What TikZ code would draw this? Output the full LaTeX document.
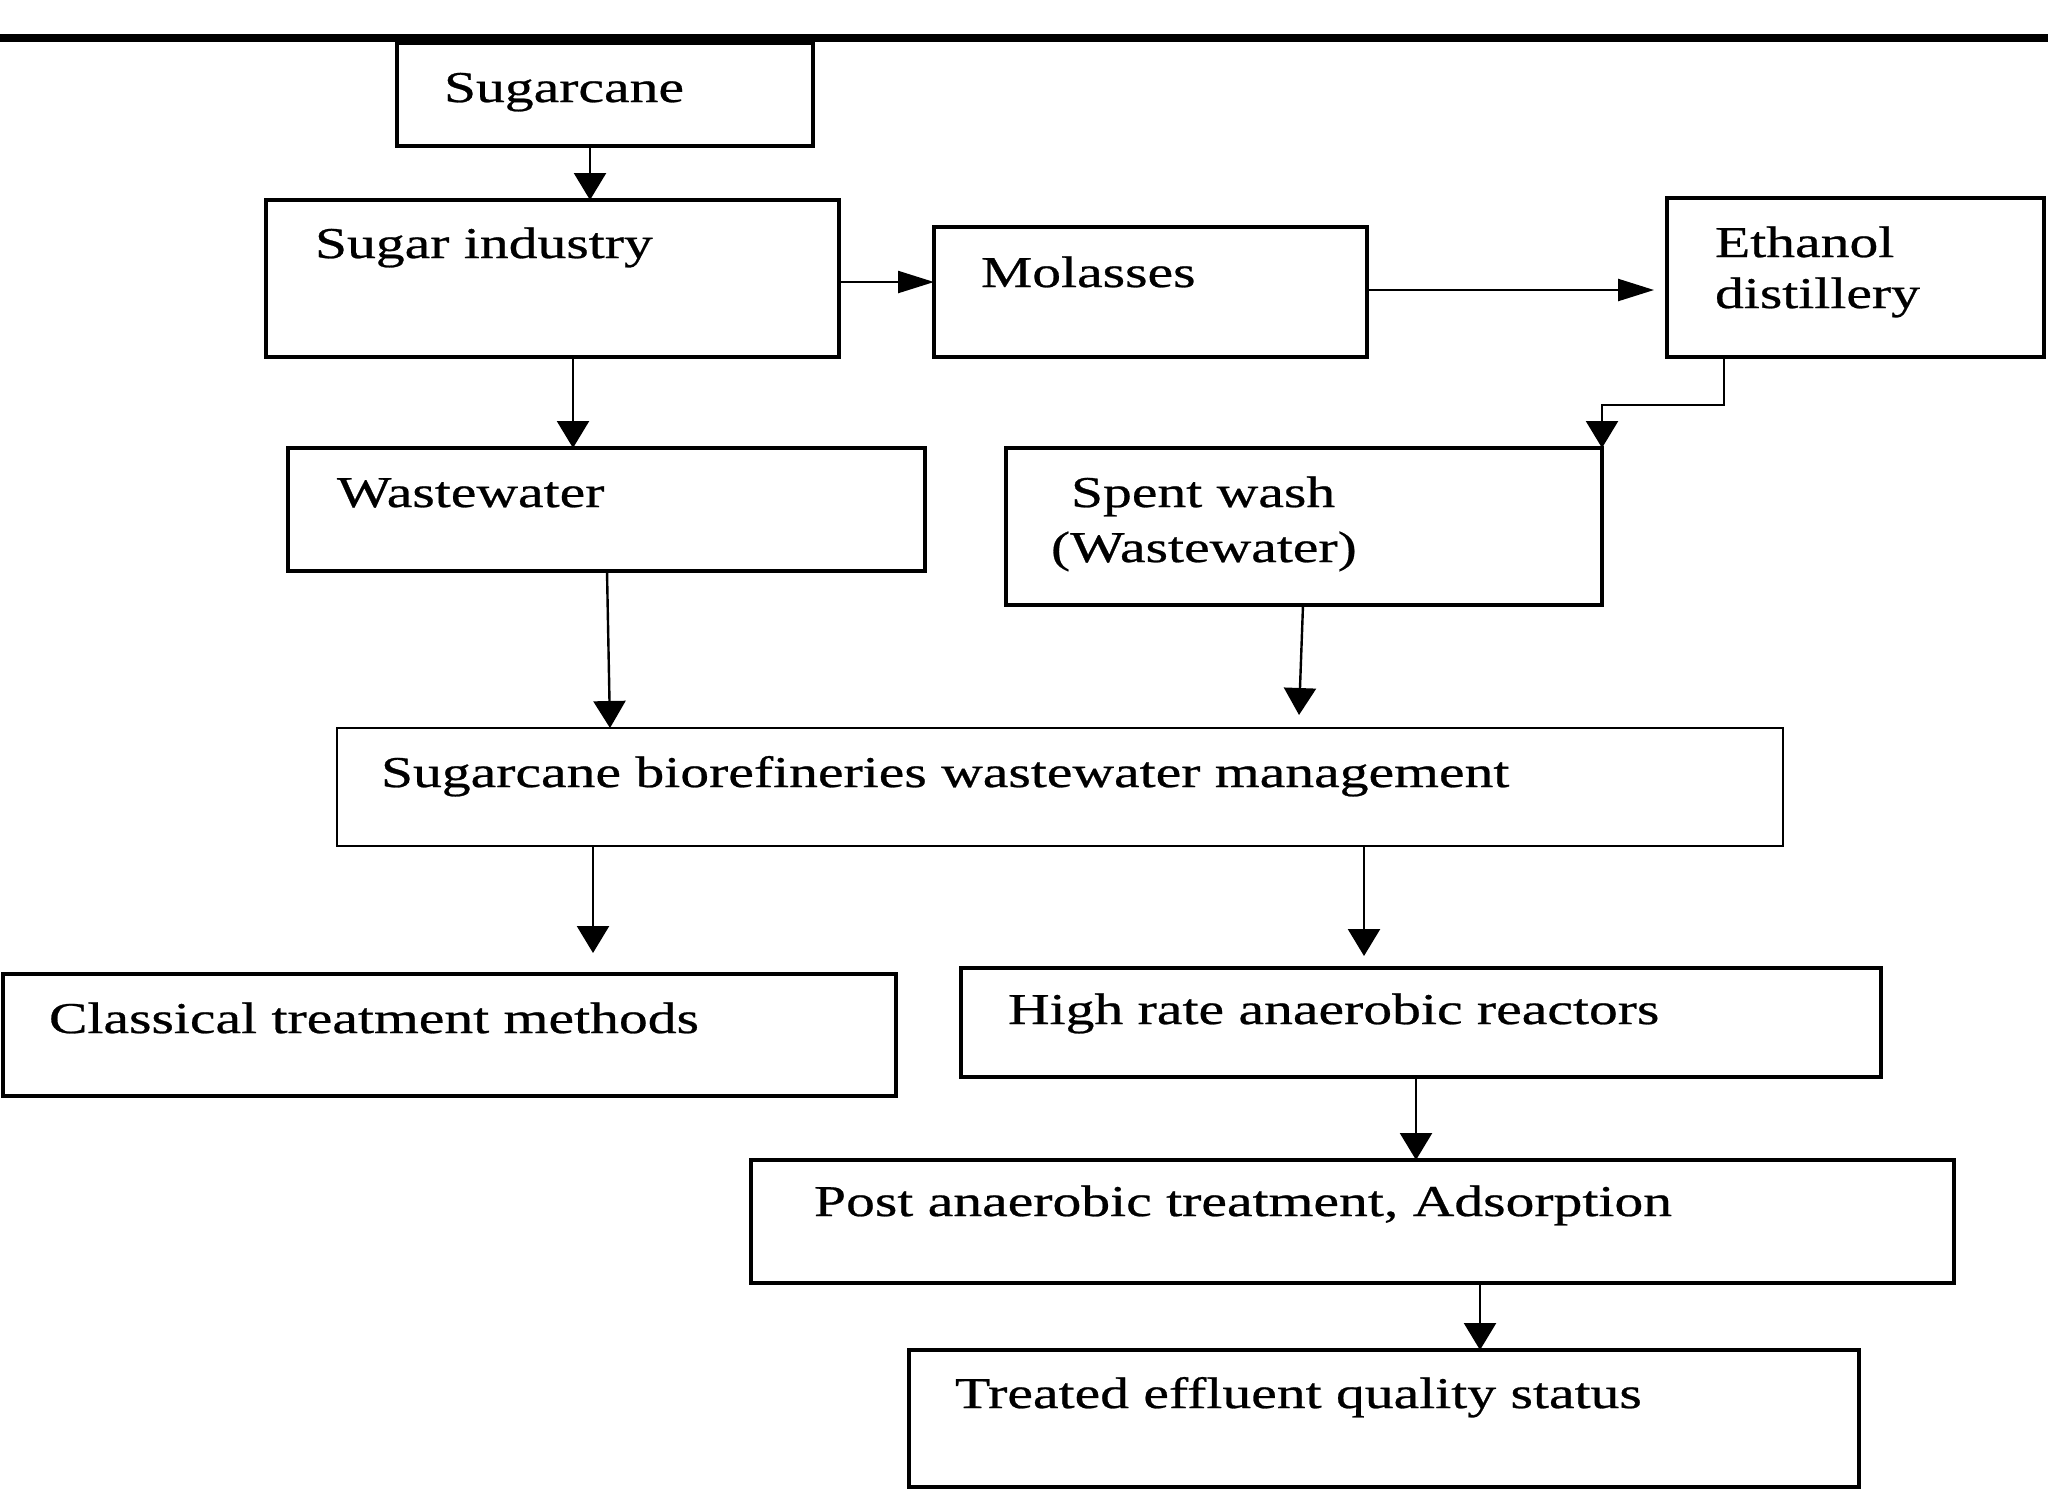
\documentclass[tikz,border=0pt]{standalone}
\usepackage{fontspec}
\setmainfont{Liberation Serif}[FakeStretch=1.31,FakeBold=0.6]
\usetikzlibrary{arrows.meta}
\tikzset{
  box/.style={draw, line width=2.3pt, inner sep=0pt, outer sep=0pt, anchor=north west},
  thinbox/.style={box, line width=1.3pt},
  lbl/.style={anchor=base west, inner sep=0pt, outer sep=0pt, font=\fontsize{22pt}{26pt}\selectfont},
  varr/.style={line width=1.2pt, -{Triangle[length=13.5pt,width=16pt]}},
  harr/.style={line width=1.2pt, -{Triangle[length=18pt,width=11pt]}}
}
\begin{document}
\begin{tikzpicture}[x=0.5pt,y=-0.5pt]
\useasboundingbox (0,0) rectangle (2048,1490);
\fill[white] (0,0) rectangle (2048,1490);
% top rule
\coordinate (ruleL) at (0,38);
\coordinate (ruleR) at (2048,38);
\draw[line width=3.9pt] (ruleL) -- (ruleR);

% boxes
\node[box, minimum width=208pt,   minimum height=51.5pt] (sc)  at (397,43)   {};
\node[box, minimum width=286.5pt, minimum height=78.5pt] (si)  at (266,200)  {};
\node[box, minimum width=216.5pt, minimum height=65pt]   (mo)  at (934,227)  {};
\node[box, minimum width=188.5pt, minimum height=79.5pt] (et)  at (1667,198) {};
\node[box, minimum width=318.5pt, minimum height=61.5pt] (ww)  at (288,448)  {};
\node[box, minimum width=298pt,   minimum height=78.5pt] (sw)  at (1006,448) {};
\node[thinbox, minimum width=723pt, minimum height=59pt] (bio) at (337,728)  {};
\node[box, minimum width=446.5pt, minimum height=61pt]   (cl)  at (3,974)    {};
\node[box, minimum width=460pt,   minimum height=54.5pt] (hr)  at (961,968)  {};
\node[box, minimum width=601.5pt, minimum height=61.5pt] (pa)  at (751,1160) {};
\node[box, minimum width=475pt,   minimum height=68.5pt] (te)  at (909,1350) {};

% labels
\node[lbl] (sc-t)  at (444,102)  {Sugarcane};
\node[lbl] (si-t)  at (315,258)  {Sugar industry};
\node[lbl] (mo-t)  at (981,287)  {Molasses};
\node[lbl] (et-t1) at (1715,257) {Ethanol};
\node[lbl] (et-t2) at (1715,308) {distillery};
\node[lbl] (ww-t)  at (337,507)  {Wastewater};
\node[lbl] (sw-t1) at (1071,507) {Spent wash};
\node[lbl] (sw-t2) at (1051,562) {(Wastewater)};
\node[lbl] (bio-t) at (381,787)  {Sugarcane biorefineries wastewater management};
\node[lbl] (cl-t)  at (49,1033)  {Classical treatment methods};
\node[lbl] (hr-t)  at (1008,1024) {High rate anaerobic reactors};
\node[lbl] (pa-t)  at (814,1216) {Post anaerobic treatment, Adsorption};
\node[lbl] (te-t)  at (955,1408) {Treated effluent quality status};

% helper coordinates for connector columns/rows
\coordinate (x573) at (573,0);
\coordinate (x590) at (590,0);
\coordinate (x593) at (593,0);
\coordinate (x607) at (607,0);
\coordinate (x610) at (610,0);
\coordinate (x1299) at (1299,0);
\coordinate (x1303) at (1303,0);
\coordinate (x1364) at (1364,0);
\coordinate (x1416) at (1416,0);
\coordinate (x1480) at (1480,0);
\coordinate (x1724) at (1724,0);
\coordinate (y282) at (0,282);
\coordinate (y290) at (0,290);
\coordinate (bend) at (1602,405);

% connectors
\draw[varr] (sc.south -| x590) -- (si.north -| x590);
\draw[harr] (si.east |- y282) -- (mo.west |- y282);
\draw[harr] (mo.east |- y290) -- ([xshift=-6.5pt]et.west |- y290);
\draw[varr] (et.south -| x1724) |- (bend) -- (sw.north east);
\draw[varr] (si.south -| x573) -- (ww.north -| x573);
\draw[varr] (ww.south -| x607) -- (bio.north -| x610);
\draw[varr] (sw.south -| x1303) -- ([yshift=6.5pt]bio.north -| x1299);
\draw[varr] (bio.south -| x593) -- ([yshift=10.5pt]cl.north -| x593);
\draw[varr] (bio.south -| x1364) -- ([yshift=6pt]hr.north -| x1364);
\draw[varr] (hr.south -| x1416) -- (pa.north -| x1416);
\draw[varr] (pa.south -| x1480) -- (te.north -| x1480);
\end{tikzpicture}
\end{document}
